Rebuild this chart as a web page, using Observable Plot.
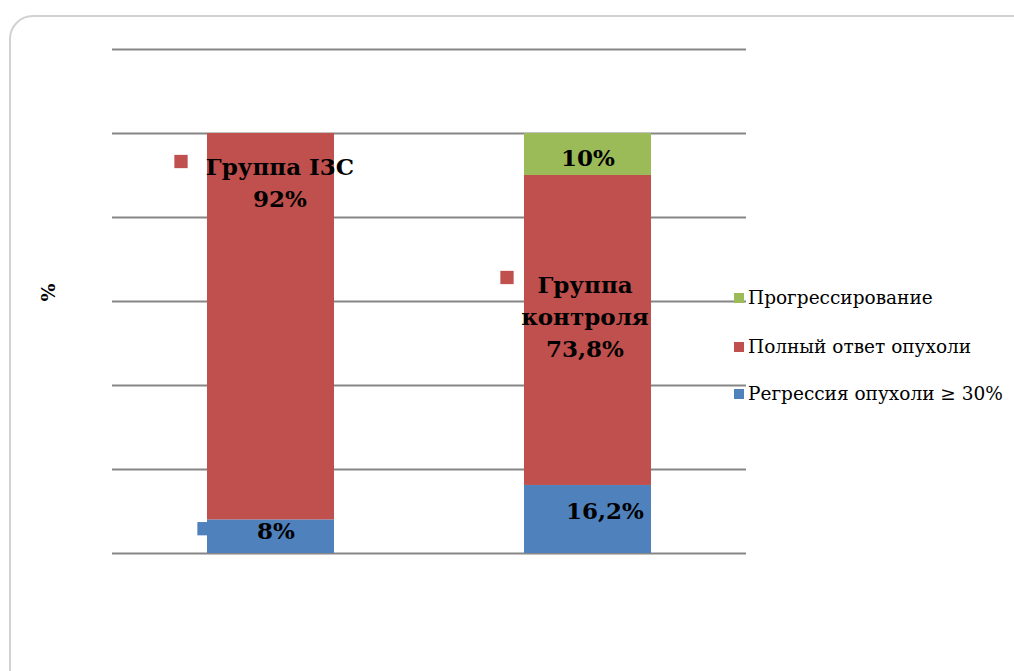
<!DOCTYPE html>
<html>
<head>
<meta charset="utf-8">
<script src="https://cdn.jsdelivr.net/npm/d3@7"></script>
<script src="https://cdn.jsdelivr.net/npm/@observablehq/plot@0.6"></script>
<style>
  body { margin: 0; background: #fff; font-family: "DejaVu Serif"; }
  #wrap { position: relative; width: 1014px; height: 671px; overflow: hidden; }
  #frame { position: absolute; left: 9px; top: 15px; width: 1100px; height: 760px;
           border: 2px solid #d2d2d2; border-radius: 24px; box-sizing: border-box; }
  #chart { position: absolute; left: 0; top: 0; }
  #legend { position: absolute; left: 734px; top: 0; font-family: "DejaVu Serif";
            font-size: 18.5px; color: #000; }
  .item { position: absolute; left: 0; white-space: nowrap; height: 24px; line-height: 24px; }
  .sw { width: 10px; height: 10px; margin-right: 4px; display: inline-block; vertical-align: 1px; }
</style>
</head>
<body>
<div id="wrap">
  <div id="frame"></div>
  <div id="chart"></div>
  <div id="legend"></div>
</div>
<script>
const groups = ["Группа I3C", "Группа контроля"];
const seriesNames = ["Прогрессирование", "Полный ответ опухоли", "Регрессия опухоли ≥ 30%"];
const seriesColors = ["#9bbb59", "#c0504d", "#4f81bd"];
const progression = [0, 10];
const complete = [92, 73.8];
const regression = [8, 16.2];
const gridValues = [0, 20, 40, 60, 80, 100, 120];
const yLabel = "%";

const stackOrder = [seriesNames[2], seriesNames[1], seriesNames[0]];
const valuesBySeries = {
  [seriesNames[0]]: progression,
  [seriesNames[1]]: complete,
  [seriesNames[2]]: regression
};
const table = [];
groups.forEach((g, i) => {
  stackOrder.forEach(s => table.push({group: g, series: s, value: valuesBySeries[s][i]}));
});

const fmt = v => String(v).replace(".", ",") + "%";
const serif = "DejaVu Serif";
const labelFont = {fontFamily: serif, fontWeight: "bold", fontSize: 23, fill: "#000", lineHeight: 1.4};

const chart = Plot.plot({
  width: 1014,
  height: 671,
  marginLeft: 112,
  marginRight: 268,
  marginTop: 49,
  marginBottom: 118,
  style: {fontFamily: serif},
  x: {domain: groups, paddingInner: 0.6, paddingOuter: 0.3, axis: null},
  y: {domain: [0, 120], axis: null},
  color: {domain: seriesNames, range: seriesColors},
  marks: [
    Plot.ruleY(gridValues, {stroke: "#868686", strokeWidth: 2}),
    Plot.barY(table, {x: "group", y: "value", fill: "series", order: stackOrder}),
    Plot.dot([groups[0]], {x: d => d, y: () => regression[0] + complete[0], symbol: "square", r: 7.5, fill: seriesColors[1], dx: -90, dy: 28}),
    Plot.dot([groups[0]], {x: d => d, y: () => regression[0] / 2, symbol: "square", r: 7.5, fill: seriesColors[2], dx: -67, dy: -8}),
    Plot.dot([groups[1]], {x: d => d, y: () => regression[1] + complete[1] / 2, symbol: "square", r: 7.5, fill: seriesColors[1], dx: -81, dy: -53}),
    Plot.text([groups[0]], {x: d => d, y: () => regression[0] + complete[0], text: d => d + "\n" + fmt(complete[0]), dx: 9, dy: 47, lineAnchor: "middle", ...labelFont}),
    Plot.text([groups[0]], {x: d => d, y: () => regression[0] / 2, text: () => fmt(regression[0]), dx: 5, dy: -8, lineAnchor: "middle", ...labelFont}),
    Plot.text([groups[1]], {x: d => d, y: () => regression[1] + complete[1] + progression[1] / 2, text: () => fmt(progression[1]), dx: 0, dy: 1, lineAnchor: "middle", ...labelFont}),
    Plot.text([groups[1]], {x: d => d, y: () => regression[1] + complete[1] / 2, text: d => d.replace(" ", "\n") + "\n" + fmt(complete[1]), dx: -3, dy: -16, lineAnchor: "middle", ...labelFont}),
    Plot.text([groups[1]], {x: d => d, y: () => regression[1] / 2, text: () => fmt(regression[1]), dx: 17, dy: -11, lineAnchor: "middle", ...labelFont}),
    Plot.text([yLabel], {frameAnchor: "left", dx: -64, rotate: -90, fontFamily: serif, fontWeight: "bold", fontSize: 19, fill: "#000"})
  ]
});
document.getElementById("chart").appendChild(chart);

const legend = document.getElementById("legend");
const legendTops = [286, 335, 382];
seriesNames.forEach((s, i) => {
  const it = document.createElement("div");
  it.className = "item";
  it.style.top = legendTops[i] + "px";
  const sw = document.createElement("span");
  sw.className = "sw";
  sw.style.background = seriesColors[i];
  it.appendChild(sw);
  it.appendChild(document.createTextNode(s));
  legend.appendChild(it);
});
</script>
</body>
</html>
